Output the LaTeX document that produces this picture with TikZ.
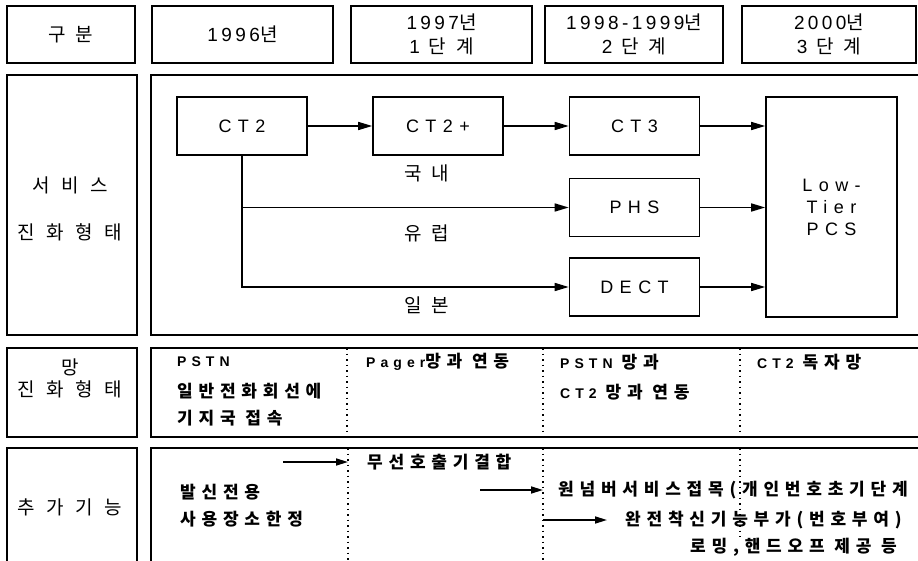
\documentclass[tikz,border=0pt]{standalone}
\usepackage{fontspec}
\setmainfont{Liberation Sans}[LetterSpace=36]
\newfontfamily\hdfont{Liberation Sans}[LetterSpace=18]
\newfontfamily\kr{Noto Sans CJK KR}[LetterSpace=60]
\newfontfamily\krh{Noto Sans CJK KR}[LetterSpace=30]
\newfontfamily\krr{Noto Sans CJK KR}[LetterSpace=34]
\newcommand\K[1]{{\kr #1}}
\newcommand\KH[1]{{\krh #1}}
\newcommand\KR[1]{{\krr\fontsize{17}{18}\selectfont #1}}
\usetikzlibrary{arrows.meta}
\tikzset{
 frame/.style={line width=1.6pt},
 cell/.style={draw, line width=1.6pt, inner sep=0pt},
 blk/.style={draw, line width=1.6pt, inner sep=0pt, minimum width=130, minimum height=58, font=\fontsize{18}{22}\selectfont},
 hdr/.style={draw, line width=1.6pt, inner sep=0pt, minimum height=57, align=center, font=\hdfont\fontsize{19}{24}\selectfont},
 lbl/.style={inner sep=0pt, font=\fontsize{19}{20}\selectfont},
 rowtxt/.style={inner sep=0pt, anchor=west, font=\bfseries\fontsize{14}{18}\selectfont},
 arr/.style={line width=1.6pt, -{Triangle[length=14pt,width=8pt]}},
 arrs/.style={line width=1.6pt, -{Triangle[length=12pt,width=7pt]}},
 dots/.style={line width=1.5pt, dash pattern=on 1.5pt off 4pt},
}
\begin{document}
\begin{tikzpicture}[x=1pt,y=-1pt]
\useasboundingbox (0,0) rectangle (918,561);
% header row
\node[hdr, minimum width=128] (h0) at (71,34.5) {\KH{구 분}};
\node[hdr, minimum width=181] (h1) at (242.5,34.5) {1996\KH{년}};
\node[hdr, minimum width=181] (h2) at (441.5,34.5) {1997\KH{년}\\1 \KH{단 계}};
\node[hdr, minimum width=178] (h3) at (634,34.5) {1998-1999\KH{년}\\2 \KH{단 계}};
\node[hdr, minimum width=174] (h4) at (829,34.5) {2000\KH{년}\\3 \KH{단 계}};
% service row
\node[cell, minimum width=130, minimum height=260] (s0) at (72,205) {};
\node[lbl] (s0a) at (70,185) {\K{서비스}};
\node[lbl] (s0b) at (70,232) {\K{진화형태}};
\draw[frame] (918,75) -- (151,75) -- (151,335) -- (918,335);
\node[blk] (ct2) at (242,126) {CT2};
\node[blk] (ct2p) at (438,126) {CT2+};
\node[blk] (ct3) at (634.5,126) {CT3};
\node[blk] (phs) at (634.5,207.5) {PHS};
\node[blk] (dect) at (634.5,287) {DECT};
\node[blk, minimum width=131, minimum height=220, align=center] (lt) at (831.5,207) {Low-\\Tier\\PCS};
\draw[arr] (ct2) -- (ct2p);
\draw[arr] (ct2p) -- (ct3);
\draw[arr] (ct3) -- (ct3 -| lt.west);
\draw[arr] (phs) -- (phs -| lt.west);
\draw[arr] (dect) -- (dect -| lt.west);
\coordinate (br1) at (ct2.south |- phs.west);
\draw[arr] (ct2.south) |- (dect.west);
\draw[arr] (br1) -- (phs.west);
\node[lbl] (l1) at (427,173) {\KH{국 내}};
\node[lbl] (l2) at (427,233) {\KH{유 럽}};
\node[lbl] (l3) at (427,305) {\KH{일 본}};
% network row
\node[cell, minimum width=130, minimum height=89] (n0) at (72,392.5) {};
\node[lbl] (n0a) at (70,367) {\K{망}};
\node[lbl] (n0b) at (70,389) {\K{진화형태}};
\draw[frame] (918,348) -- (151,348) -- (151,437) -- (918,437);
\draw[dots] (347,348) -- (347,437);
\draw[dots] (543,348) -- (543,437);
\draw[dots] (740,348) -- (740,437);
\node[rowtxt] (n1) at (177,362) {PSTN};
\node[rowtxt] (n2) at (177,391) {\KR{일반전화회선에}};
\node[rowtxt] (n3) at (177,418) {\KR{기지국 접속}};
\node[rowtxt] (n4) at (366,362) {Pager\KR{망과 연동}};
\node[rowtxt] (n5) at (560,362) {PSTN \KR{망과}};
\node[rowtxt] (n6) at (560,392) {CT2 \KR{망과 연동}};
\node[rowtxt] (n7) at (757,362) {CT2 \KR{독자망}};
% function row
\draw[frame] (7,561) -- (7,448) -- (137,448) -- (137,561);
\node[lbl] (a0) at (70,507) {\K{추가기능}};
\draw[frame] (918,448) -- (151,448) -- (151,561);
\draw[dots] (348,448) -- (348,561);
\draw[dots] (543,448) -- (543,561);
\draw[dots] (740,448) -- (740,537);
\coordinate (a1s) at (283,462); \coordinate (a1e) at (348,462);
\coordinate (a2s) at (480,490); \coordinate (a2e) at (543,490);
\coordinate (a3s) at (543,520); \coordinate (a3e) at (607,520);
\draw[arrs] (a1s) -- (a1e);
\draw[arrs] (a2s) -- (a2e);
\draw[arrs] (a3s) -- (a3e);
\node[rowtxt] (f1) at (367,462) {\KR{무선호출기결합}};
\node[rowtxt] (f2) at (180,492) {\KR{발신전용}};
\node[rowtxt] (f3) at (180,519) {\KR{사용장소한정}};
\node[rowtxt] (f4) at (558,490) {\KR{원넘버서비스접목(개인번호초기단계}};
\node[rowtxt] (f5) at (625,520) {\KR{완전착신기능부가(번호부여)}};
\node[rowtxt] (f6) at (690,547) {\KR{로밍,핸드오프 제공 등}};
\end{tikzpicture}
\end{document}
